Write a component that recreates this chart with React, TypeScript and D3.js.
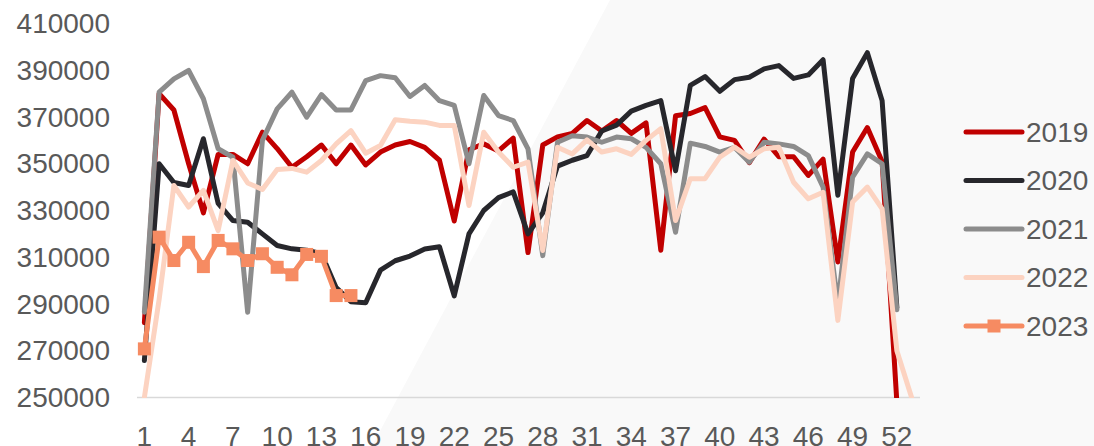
import React from "react";
import * as d3 from "d3";

const weeks = [1,2,3,4,5,6,7,8,9,10,11,12,13,14,15,16,17,18,19,20,21,22,23,24,25,26,27,28,29,30,31,32,33,34,35,36,37,38,39,40,41,42,43,44,45,46,47,48,49,50,51,52,53];
const xTickLabels = [1,4,7,10,13,16,19,22,25,28,31,34,37,40,43,46,49,52];
const yTicks = [250000,270000,290000,310000,330000,350000,370000,390000,410000];

const s2019 = [282000,380000,373000,350000,329000,354000,354000,350000,363500,356500,348500,353000,358000,350000,358000,349500,355000,358000,359500,357000,351500,325500,356000,358500,355500,361000,312000,358000,361500,363000,368500,364000,368500,363000,367500,313000,370500,371500,374000,361500,360000,350500,360500,353000,353000,345000,352000,308000,355000,365500,351000,248000];
const s2020 = [265800,350000,342000,340700,360700,333000,325700,325000,320000,315000,313600,313000,311500,297000,291000,290500,304500,308500,310500,313500,314500,293500,320000,330000,335500,338000,320000,329000,349000,351500,353500,364000,366500,372500,375000,377000,347000,383500,387300,381000,386000,387000,390600,392000,386500,388000,394500,336500,386500,397500,377000,288500];
const s2021 = [286500,380600,386300,389900,377800,356400,352800,286500,360000,373500,380600,369900,379600,373000,373000,385600,387700,386800,378800,383500,377000,375000,350000,379200,370600,368500,356400,310700,359200,362000,361400,359200,361400,360700,357000,350000,320700,358800,357400,355000,357000,350700,359200,358500,357400,353500,340000,290000,344300,354200,350000,287500];
const s2022 = [250000,292000,340700,331500,338600,321400,351400,341800,339000,347500,348000,346400,351400,358500,364200,354500,357800,368800,368200,367800,366400,366400,332100,363500,355000,348500,350700,312900,357100,354200,360200,355000,356400,354000,360000,365000,325700,343600,343600,352800,357100,352800,356400,357100,342100,335000,337800,283000,333600,340000,330700,270000,250000];
const s2023 = [270800,318600,308600,316400,306000,317200,313600,308600,311500,305700,302500,311200,310400,293600,293600];

const seriesNames = ["2019","2020","2021","2022","2023"];
const seriesData = [s2019, s2020, s2021, s2022, s2023];
const seriesColors = ["#c00000","#27272c","#8c8c8c","#fcd3c1","#f68b62"];

const W = 1094, H = 446;
const font = "'Liberation Sans', Arial, sans-serif";

export default function App() {
  const x = d3.scalePoint<number>().domain(weeks).range([137, 919]).padding(0.5);
  const y = d3.scaleLinear().domain([250000, 410000]).range([397.5, 23.5]);
  const line = d3.line<number>()
    .x((_, i) => x(weeks[i]) as number)
    .y((d) => y(d));

  const legendY = d3.scalePoint<string>().domain(seriesNames).range([132, 326]);

  return (
    <svg width={W} height={H} style={{ position: "absolute", left: 0, top: 0, background: "#ffffff" }} fontFamily={font}>
      <defs>
        <clipPath id="plotClip">
          <rect x={120} y={0} width={820} height={398} />
        </clipPath>
      </defs>
      <rect x={0} y={0} width={W} height={H} fill="#ffffff" />
      <polygon points={`372,${H} 610,0 ${W},0 ${W},${H}`} fill="#f9f9f9" />
      <line x1={137} x2={920} y1={397.5} y2={397.5} stroke="#d9d9d9" strokeWidth={1.5} />
      {yTicks.map((t) => (
        <text key={t} x={110} y={y(t)} textAnchor="end" dominantBaseline="central" fontSize={28} fill="#595959">{t}</text>
      ))}
      {xTickLabels.map((t) => (
        <text key={t} x={x(t) as number} y={446} textAnchor="middle" fontSize={28} fill="#595959">{t}</text>
      ))}
      <g clipPath="url(#plotClip)">
        {seriesData.map((s, k) => (
          <path key={seriesNames[k]} d={line(s) || ""} fill="none" stroke={seriesColors[k]} strokeWidth={5} strokeLinejoin="round" strokeLinecap="round" />
        ))}
        {s2023.map((v, i) => (
          <rect key={i} x={(x(weeks[i]) as number) - 6.5} y={y(v) - 6.5} width={13} height={13} fill={seriesColors[4]} />
        ))}
      </g>
      {seriesNames.map((n, k) => {
        const ly = legendY(n) as number;
        return (
          <g key={n}>
            <line x1={966} x2={1022} y1={ly} y2={ly} stroke={seriesColors[k]} strokeWidth={5} strokeLinecap="round" />
            {k === 4 && <rect x={994 - 6.5} y={ly - 6.5} width={13} height={13} fill={seriesColors[k]} />}
            <text x={1026} y={ly} dominantBaseline="central" fontSize={28} fill="#595959">{n}</text>
          </g>
        );
      })}
    </svg>
  );
}
